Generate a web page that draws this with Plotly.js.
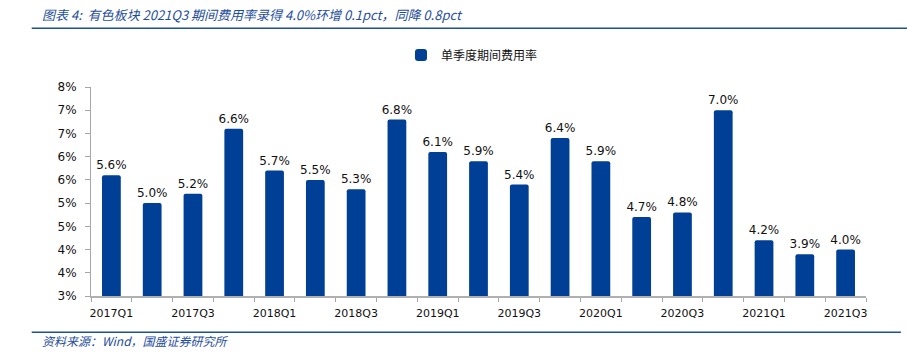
<!DOCTYPE html>
<html>
<head>
<meta charset="utf-8">
<script src="https://cdn.plot.ly/plotly-3.0.1.min.js"></script>
<style>html,body{margin:0;padding:0;background:#fff;}#chart{width:907px;height:363px;}</style>
</head>
<body>
<div id="chart"></div>
<script>
const categories = ["2017Q1","2017Q2","2017Q3","2017Q4","2018Q1","2018Q2","2018Q3","2018Q4","2019Q1","2019Q2","2019Q3","2019Q4","2020Q1","2020Q2","2020Q3","2020Q4","2021Q1","2021Q2","2021Q3"];
const expenseRate = [5.6,5.0,5.2,6.6,5.7,5.5,5.3,6.8,6.1,5.9,5.4,6.4,5.9,4.7,4.8,7.0,4.2,3.9,4.0];
const yTickVals = [3.0,3.5,4.0,4.5,5.0,5.5,6.0,6.5,7.0,7.5];
const yTickText = ["3%","4%","4%","5%","5%","6%","6%","7%","7%","8%"];
const xTickText = categories.map((c,i) => i % 2 === 0 ? c : "");
const seriesName = "单季度期间费用率";
const titleText = "图表 4:  有色板块 2021Q3 期间费用率录得 4.0%环增 0.1pct，同降 0.8pct";
const sourceText = "资料来源：Wind，国盛证券研究所";

const blue = "#003F96";
const navy = "#1F4E9B";
const latin = "DejaVu Sans, Noto Sans CJK SC, sans-serif";
const cjk = "Noto Sans CJK SC, DejaVu Sans, sans-serif";

const trace = {
  type: "bar",
  x: categories,
  y: expenseRate,
  name: seriesName,
  marker: {color: blue, cornerradius: 2},
  text: expenseRate.map(v => v.toFixed(1) + "%"),
  textposition: "outside",
  constraintext: "none",
  cliponaxis: false,
  textfont: {family: latin, size: 12, color: "#111"},
  hoverinfo: "none"
};

const layout = {
  width: 907, height: 363,
  margin: {l: 91, r: 41, t: 87, b: 67},
  paper_bgcolor: "#fff", plot_bgcolor: "#fff",
  bargap: 0.54,
  showlegend: true,
  legend: {
    orientation: "h", x: 0.4, xanchor: "left", y: 1.153, yanchor: "middle",
    font: {family: cjk, size: 12, color: "#111"},
    itemwidth: 30, bgcolor: "rgba(0,0,0,0)"
  },
  xaxis: {
    type: "category",
    tickmode: "array", tickvals: categories, ticktext: xTickText,
    tickson: "boundaries", ticks: "outside", ticklen: 4, tickcolor: "#a6a6a6",
    showline: true, linecolor: "#b0b0b0", linewidth: 1.5,
    showgrid: false, zeroline: false,
    tickfont: {family: latin, size: 11, color: "#111"},
    ticklabelstandoff: 6,
    tickangle: 0, automargin: false
  },
  yaxis: {
    range: [3.0, 7.5],
    tickmode: "array", tickvals: yTickVals, ticktext: yTickText,
    ticks: "outside", ticklen: 5, tickcolor: "#a6a6a6",
    showline: true, linecolor: "#a6a6a6", linewidth: 1,
    showgrid: false, zeroline: false,
    tickfont: {family: latin, size: 12, color: "#111"},
    ticklabelstandoff: 6,
    automargin: false
  },
  shapes: [
    {type: "line", xref: "paper", yref: "paper", x0: -0.0765, x1: 1.055, y0: 1.281, y1: 1.281, line: {color: navy, width: 1.5}},
    {type: "line", xref: "paper", yref: "paper", x0: -0.0765, x1: 1.045, y0: -0.174, y1: -0.174, line: {color: navy, width: 1.5}}
  ],
  annotations: [
    {text: titleText, xref: "paper", yref: "paper", x: -0.066, y: 1.349, xanchor: "left", yanchor: "middle", showarrow: false,
     font: {family: cjk, size: 13, color: navy, style: "italic"}},
    {text: sourceText, xref: "paper", yref: "paper", x: -0.066, y: -0.215, xanchor: "left", yanchor: "middle", showarrow: false,
     font: {family: cjk, size: 12, color: navy, style: "italic"}}
  ]
};

Plotly.newPlot("chart", [trace], layout, {displayModeBar: false, staticPlot: true});
</script>
</body>
</html>
